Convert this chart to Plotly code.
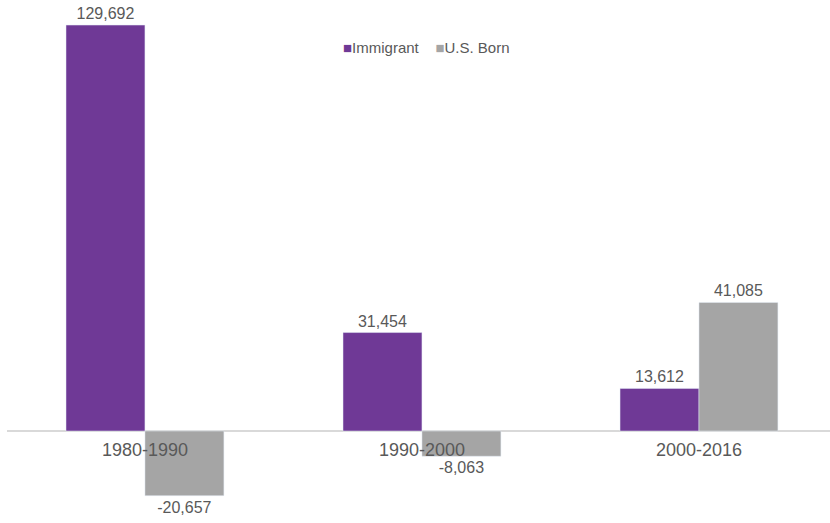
import plotly.graph_objects as go

periods = ["1980-1990", "1990-2000", "2000-2016"]
immigrant = [129692, 31454, 13612]
us_born = [-20657, -8063, 41085]
series_names = ["Immigrant", "U.S. Born"]

PURPLE = "#6F3996"
GRAY = "#A5A5A5"
TEXT = "#595959"
FONT = "Liberation Sans"

fig = go.Figure()
for name, vals, color in [(series_names[0], immigrant, PURPLE), (series_names[1], us_born, GRAY)]:
    fig.add_trace(go.Bar(
        x=periods, y=vals, name=name, marker_color=color,
        text=[f"{v:,}" for v in vals], textposition="outside",
        textfont=dict(size=16, color=TEXT, family=FONT),
        cliponaxis=False, showlegend=False,
    ))

# Category labels sit on the zero line
for p in periods:
    fig.add_annotation(x=p, y=0, text=p, showarrow=False, yanchor="top", yshift=-7,
                       font=dict(size=18, color=TEXT, family=FONT))

# Compact legend: small square swatch followed by the series name
legend_text = "&nbsp;&nbsp;&nbsp;&nbsp;".join(
    f"<span style='color:{c}'>■</span>{n}" for n, c in zip(series_names, [PURPLE, GRAY])
)
fig.add_annotation(xref="paper", yref="paper", x=(341 - 7) / 823, y=1 - 48 / 523,
                   xanchor="left", yanchor="middle", showarrow=False, text=legend_text,
                   font=dict(size=15, color=TEXT, family=FONT))

fig.update_layout(
    width=830, height=523,
    margin=dict(l=7, r=0, t=0, b=0),
    plot_bgcolor="white", paper_bgcolor="white",
    barmode="group", bargap=0.43, bargroupgap=0,
    font=dict(family=FONT, color=TEXT),
    showlegend=False,
    xaxis=dict(range=[-0.498, 2.473], showticklabels=False, showgrid=False, zeroline=False,
               showline=False, ticks=""),
    yaxis=dict(range=[-29390, 137700], showticklabels=False, showgrid=False,
               zeroline=True, zerolinecolor="#D9D9D9", zerolinewidth=1.5),
)

fig.write_html("out.html")
